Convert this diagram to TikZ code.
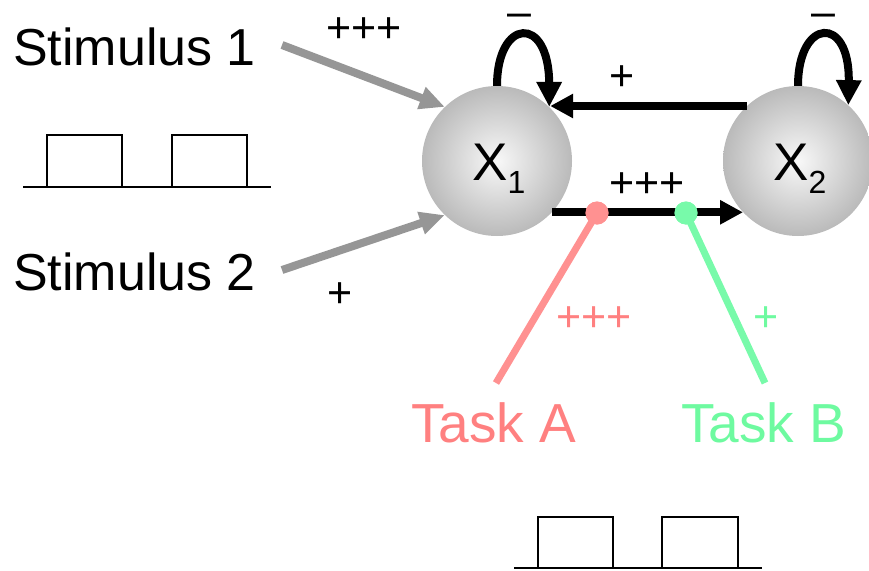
\documentclass[tikz,border=0pt]{standalone}
\usepackage{fontspec}
\setmainfont{Liberation Sans}
\usetikzlibrary{arrows.meta}

\definecolor{inputgray}{RGB}{150,150,150}
\definecolor{orbcenter}{RGB}{248,248,248}
\definecolor{orbedge}{RGB}{186,186,186}
\definecolor{taskaline}{RGB}{255,145,145}
\definecolor{taskatext}{RGB}{255,128,128}
\definecolor{taskbline}{RGB}{120,250,170}
\definecolor{taskbtext}{RGB}{110,250,160}

\pgfdeclareradialshading{orb}{\pgfpoint{0bp}{0bp}}{%
  color(0bp)=(orbcenter); color(25bp)=(orbedge); color(50bp)=(orbedge)}

\tikzset{
  unit/.style={circle, minimum size=150pt, inner sep=0pt, shading=orb},
  bigtext/.style={inner sep=0pt, anchor=base west, font=\fontsize{52}{60}\selectfont},
  tasktext/.style={inner sep=0pt, anchor=base west, font=\fontsize{55}{62}\selectfont},
  sign/.style={inner sep=0pt, anchor=base, font=\fontsize{43}{48}\selectfont},
  unitname/.style={inner sep=0pt, anchor=base west},
  link/.style={line width=8pt, -{Triangle[length=23pt,width=23pt]}},
  selfloop/.style={line width=8pt, -{Triangle[length=25pt,width=24pt]}},
  input/.style={line width=8pt, inputgray, -{Triangle[length=25pt,width=22pt]}},
  readout/.style={line width=7pt},
  tap/.style={circle, minimum size=23pt, inner sep=0pt},
  pulse/.style={line width=1.5pt, line join=miter}
}

\newcommand{\unitlabel}[1]{{\fontsize{53}{60}\selectfont X}\raisebox{-13pt}{\fontsize{32}{36}\selectfont #1}}

\begin{document}
\begin{tikzpicture}[x=1pt, y=-1pt]
  \useasboundingbox (0,0) rectangle (869,570);

  % the two units
  \node[unit] (x1) at (497,161) {};
  \node[unit] (x2) at (798,161) {};
  \node[unitname] (x1lab) at (472,180) {\unitlabel{1}};
  \node[unitname] (x2lab) at (773,180) {\unitlabel{2}};

  % stimuli
  \node[bigtext] (stim1) at (13,65) {Stimulus 1};
  \node[bigtext] (stim2) at (13,290) {Stimulus 2};
  \coordinate (in1) at (282,45);
  \coordinate (in2) at (282,270);
  \draw[input] (in1) -- (x1.134);
  \draw[input] (in2) -- (x1.226);
  \node[sign] (w1) at (364,42) {+++};
  \node[sign] (w2) at (340,307) {+};

  % self connections
  \draw[selfloop] (x1.north) .. controls (497,18) and (549,14) .. (x1.46);
  \draw[selfloop] (x2.north) .. controls (798,18) and (850,14) .. (x2.48);
  \node[sign] (s1) at (519,27) {–};
  \node[sign] (s2) at (823,27) {–};

  % lateral connections
  \draw[link] (x2.133) -- (x2.133 -| x1.45);
  \node[sign] (w21) at (622,90) {+};
  \draw[link] (x1.-43) -- (x1.-43 -| x2.-137);
  \node[sign] (w12) at (647,197) {+++};

  % task readouts
  \coordinate (ea) at (496,383);
  \coordinate (eb) at (765,383);
  \node[tap, fill=taskaline] (ta) at (597,213) {};
  \node[tap, fill=taskbline] (tb) at (686,213) {};
  \draw[readout, taskaline] (ta.center) -- (ea);
  \draw[readout, taskbline] (tb.center) -- (eb);
  \node[tap, fill=taskaline] at (ta) {};
  \node[tap, fill=taskbline] at (tb) {};
  \node[sign, text=taskatext] (wa) at (594,331) {+++};
  \node[sign, text=taskbtext] (wb) at (766,331) {+};
  \node[tasktext, text=taskatext] (taska) at (411,442) {Task A};
  \node[tasktext, text=taskbtext] (taskb) at (681,442) {Task B};

  % pulse trains: baseline with two rectangular pulses on it
  \draw[pulse] (23,187) -- (271,187);
  \draw[pulse] (47,187) rectangle (122,135);
  \draw[pulse] (172,187) rectangle (247,135);
  \draw[pulse] (514,568) -- (762,568);
  \draw[pulse] (538,568) rectangle (613,517);
  \draw[pulse] (662,568) rectangle (738,517);
\end{tikzpicture}
\end{document}
